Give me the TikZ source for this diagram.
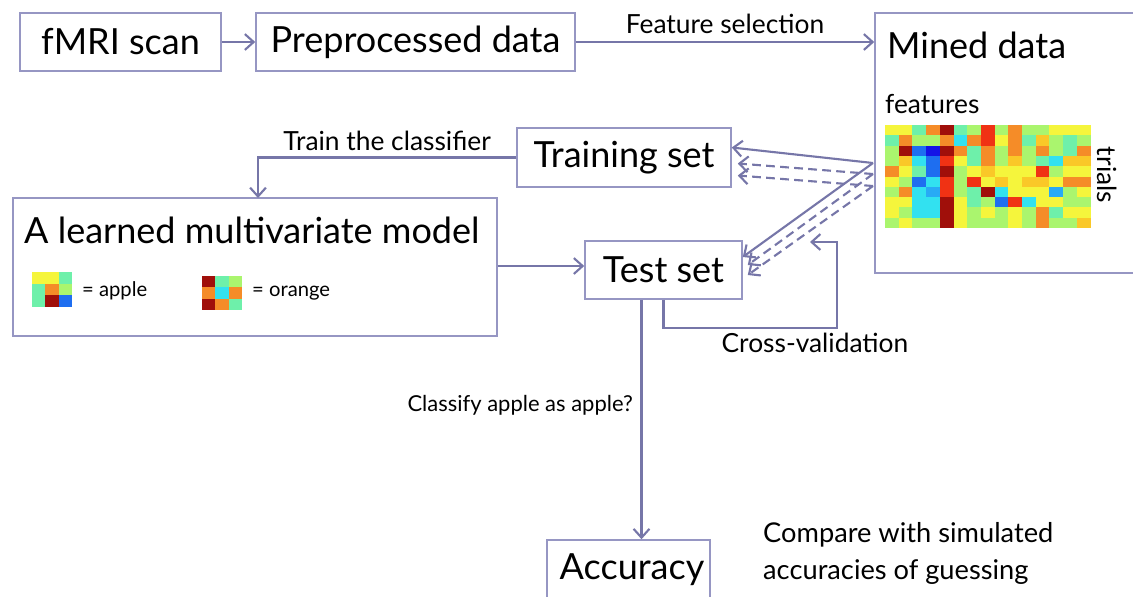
\documentclass[tikz,border=0pt]{standalone}
\usepackage{fontspec}
\setmainfont{Lato}
\usetikzlibrary{arrows.meta,calc}

\definecolor{linecol}{RGB}{118,118,168}
\definecolor{boxcol}{RGB}{150,150,195}
% heat map colours
\definecolor{hm0}{RGB}{20,20,230}
\definecolor{hm1}{RGB}{30,110,240}
\definecolor{hm2}{RGB}{40,170,245}
\definecolor{hm3}{RGB}{50,225,240}
\definecolor{hm4}{RGB}{110,240,170}
\definecolor{hm5}{RGB}{170,245,110}
\definecolor{hm6}{RGB}{245,245,60}
\definecolor{hm7}{RGB}{250,200,40}
\definecolor{hm8}{RGB}{245,140,40}
\definecolor{hm9}{RGB}{240,50,20}
\definecolor{hmD}{RGB}{160,15,10}

\tikzset{
	box/.style={draw=boxcol, line width=0.9pt, inner sep=0pt, fill=white},
	flow/.style={draw=linecol, line width=1.2pt, -{Straight Barb[length=5pt,width=9pt]}},
	dflow/.style={flow, dash pattern=on 5pt off 3pt},
	big/.style={font=\fontsize{20.5}{24}\selectfont},
	mid/.style={font=\fontsize{15}{18}\selectfont},
	small/.style={font=\fontsize{12.5}{15}\selectfont},
	tiny/.style={font=\fontsize{11.5}{14}\selectfont},
}

\begin{document}
\begin{tikzpicture}[x=0.02cm,y=-0.02cm]
	\clip (0,0) rectangle (1133,596);
	\fill[white] (0,0) rectangle (1133,596);

	%% boxes
	\node[box, big, minimum width=4.02cm, minimum height=1.16cm] (fmri) at (120.5,42) {fMRI scan};
	\node[box, big, minimum width=6.38cm, minimum height=1.16cm] (prep) at (415.5,42) {Preprocessed data};
	\node[box, minimum width=5.4cm, minimum height=5.2cm] (mined) at (1010,143) {};
	\node[box, big, minimum width=4.28cm, minimum height=1.18cm] (train) at (624,157.5) {Training set};
	\node[box, minimum width=9.68cm, minimum height=2.76cm] (model) at (255,267) {};
	\node[box, big, minimum width=3.14cm, minimum height=1.16cm] (test) at (663.5,270) {Test set};
	\node[box, minimum width=3.26cm, minimum height=1.6cm] (acc) at (628.5,580) {};

	%% texts inside
	\node[big, anchor=west] (minedtitle) at (881,45) {Mined data};
	\node[mid, anchor=west] (feat) at (879,104) {features};
	\node[mid, rotate=-90] (trials) at (1107,175) {trials};
	\node[big, anchor=west] (modeltitle) at (18,230) {A learned multivariate model};
	\node[tiny, anchor=west] (applelab) at (76,291) {= apple};
	\node[tiny, anchor=west] (orangelab) at (246,293) {= orange};
	\node[big] (acctext) at (632,570) {Accuracy};

	%% heat map of the mined data
	\foreach \row [count=\r from 0] in {
		{6,6,4,8,D,4,5,9,5,8,5,5,6,6,6},
		{4,8,5,5,8,3,8,9,6,8,4,7,5,4,5},
		{5,D,1,0,D,8,4,8,5,8,5,8,5,4,8},
		{5,7,3,1,9,6,4,8,5,7,5,4,3,7,7},
		{8,6,4,1,D,5,6,7,6,6,6,9,5,6,6},
		{6,5,1,3,9,5,9,6,7,6,7,7,6,8,8},
		{5,8,3,2,9,5,4,D,3,6,6,6,2,5,6},
		{6,6,3,3,D,6,4,5,1,9,3,6,6,5,5},
		{6,5,3,3,D,6,5,6,5,6,5,8,4,6,6},
		{5,6,5,5,D,6,5,5,5,6,5,8,5,5,7}}
		\foreach \v [count=\c from 0] in \row
			\fill[hm\v] (885+\c*13.7,125+\r*10.3) rectangle ++(14,10.6);

	%% legend icons
	\foreach \row [count=\r from 0] in {{6,6,4},{4,8,5},{4,D,1}}
		\foreach \v [count=\c from 0] in \row
			\fill[hm\v] (32+\c*13.3,272+\r*11.7) rectangle ++(13.6,12);
	\foreach \row [count=\r from 0] in {{D,4,5},{8,3,8},{D,8,4}}
		\foreach \v [count=\c from 0] in \row
			\fill[hm\v] (202+\c*13.3,276+\r*11.3) rectangle ++(13.6,11.6);

	%% connectors
	\draw[flow] (fmri) -- (prep);
	\draw[flow] (prep) -- node[above, mid, yshift=1pt] (featsel) {Feature selection} (mined.west |- prep);
	\coordinate (modeltop) at (258,198);
	\draw[flow] (train.west) -| node[pos=0.25, above, mid] (trainlab) {Train the classifier} (modeltop);
	\draw[flow] (model.east |- 0,266) -- (test.west |- 0,266);

	\coordinate (s1) at (873,163);
	\coordinate (s2) at (873,174);
	\coordinate (s3) at (873,186);
	\draw[flow] (s1) -- ($(train.east)+(0,-10)$);
	\draw[dflow] (s2) -- ($(train.east)+(6,6)$);
	\draw[dflow] (s3) -- ($(train.east)+(6,18)$);
	\draw[flow] (s1) -- ($(test.east)+(0,-13)$);
	\draw[dflow] (s2) -- ($(test.east)+(5,-5)$);
	\draw[dflow] (s3) -- ($(test.east)+(5,5)$);

	%% cross-validation loop
	\coordinate (cvcorner) at (837,328);
	\coordinate (cvend) at (810,242);
	\draw[flow] (test.south) |- (cvcorner) |- (cvend);
	\node[mid] (cvlab) at (815,343) {Cross-validation};

	\coordinate (tstart) at ($(test.south)+(-22,0)$);
	\draw[flow] (tstart) -- node[pos=0.44, left, small, xshift=-1pt] (classlab) {Classify apple as apple?} (tstart |- acc.north);

	\node[align=left, anchor=west, font=\fontsize{15.5}{21}\selectfont] (compare) at (757,553) {Compare with simulated\\accuracies of guessing};
\end{tikzpicture}
\end{document}
